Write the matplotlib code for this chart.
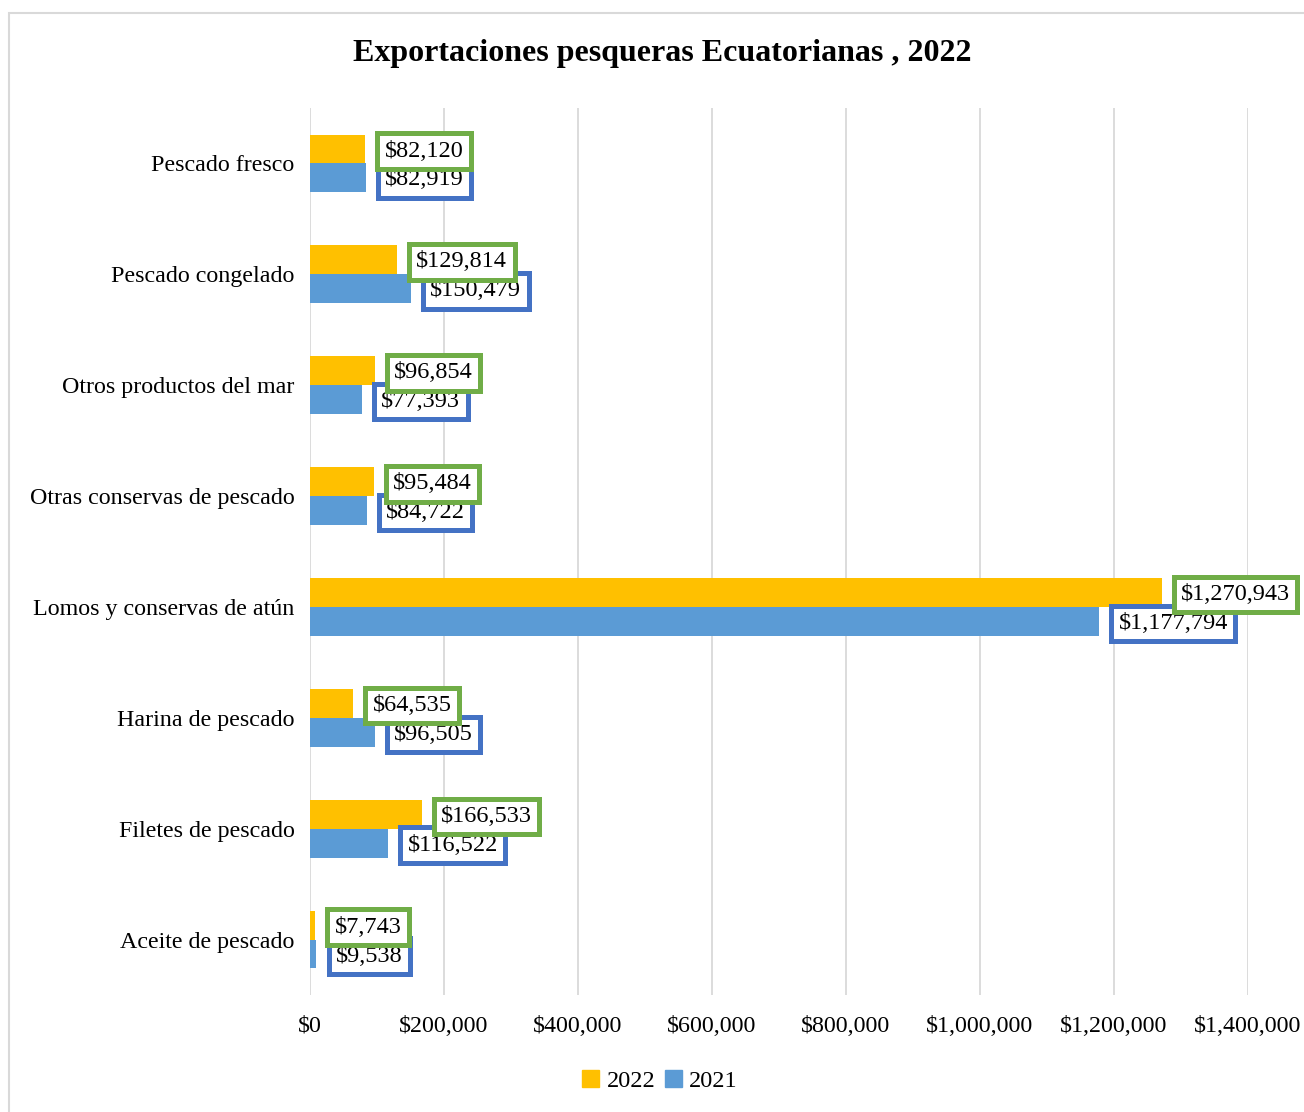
"""Exportaciones pesqueras ecuatorianas 2022 vs 2021, barras horizontales agrupadas."""

import matplotlib.pyplot as plt
from matplotlib.patches import Rectangle, Patch
from matplotlib.ticker import FuncFormatter

categories = [
    "Pescado fresco",
    "Pescado congelado",
    "Otros productos del mar",
    "Otras conservas de pescado",
    "Lomos y conservas de atún",
    "Harina de pescado",
    "Filetes de pescado",
    "Aceite de pescado",
]
values_2022 = [82120, 129814, 96854, 95484, 1270943, 64535, 166533, 7743]
values_2021 = [82919, 150479, 77393, 84722, 1177794, 96505, 116522, 9538]
x_ticks = [0, 200000, 400000, 600000, 800000, 1000000, 1200000, 1400000]

YELLOW = "#FFC000"
BLUE = "#5B9BD5"
GREEN_EDGE = "#70AD47"
BLUE_EDGE = "#4472C4"
GRID = "#D9D9D9"

plt.rcParams["font.family"] = ["Liberation Serif", "DejaVu Serif"]

W, H = 1304, 1112
fig = plt.figure(figsize=(W / 100, H / 100), dpi=100)
ax = fig.add_axes([310 / W, 1 - 995 / H, (1248 - 310) / W, (995 - 108) / H])

# light gray frame around the chart (cut off on right/bottom like the source)
fig.add_artist(Rectangle((9 / W, -0.1), 1.2, 1 - 13 / H + 0.1,
                         transform=fig.transFigure, fill=False,
                         edgecolor="#D9D9D9", linewidth=1.5))

bh = 0.26
ys = list(range(len(categories)))
y22 = [y - bh / 2 for y in ys]
y21 = [y + bh / 2 for y in ys]
ax.barh(y22, values_2022, height=bh, color=YELLOW, zorder=2)
ax.barh(y21, values_2021, height=bh, color=BLUE, zorder=2)


def money(v, _pos=None):
    return f"${v:,.0f}"


# data labels: 2021 boxes first so the 2022 (green) boxes sit on top
for v, y in zip(values_2021, y21):
    ax.annotate(money(v), xy=(v, y), xytext=(14, -1.5), textcoords="offset points",
                ha="left", va="center", fontsize=17.5, clip_on=False, zorder=4,
                bbox=dict(boxstyle="square,pad=0.3", fc="white",
                          ec=BLUE_EDGE, lw=3.6))
for v, y in zip(values_2022, y22):
    ax.annotate(money(v), xy=(v, y), xytext=(14, -1.5), textcoords="offset points",
                ha="left", va="center", fontsize=17.5, clip_on=False, zorder=5,
                bbox=dict(boxstyle="square,pad=0.3", fc="white",
                          ec=GREEN_EDGE, lw=3.6))

ax.set_xlim(0, 1400000)
ax.set_ylim(len(categories) - 0.5, -0.5)
ax.set_xticks(x_ticks)
ax.xaxis.set_major_formatter(FuncFormatter(money))
ax.set_yticks(ys)
ax.set_yticklabels(categories)
ax.tick_params(axis="both", length=0, labelsize=17.3)
ax.tick_params(axis="x", pad=15)
ax.tick_params(axis="y", pad=11)
ax.grid(axis="x", color=GRID, linewidth=1.3, zorder=0)
ax.set_axisbelow(True)
for s in ax.spines.values():
    s.set_visible(False)

fig.text(662 / W, 1 - 53 / H, "Exportaciones pesqueras Ecuatorianas , 2022",
         ha="center", va="center", fontsize=23, fontweight="bold")

handles = [Patch(color=YELLOW, label="2022"), Patch(color=BLUE, label="2021")]
fig.legend(handles=handles, loc="center", bbox_to_anchor=(660 / W, 1 - 1081 / H),
           ncol=2, frameon=False, fontsize=17.5, handlelength=0.7,
           handleheight=0.7, handletextpad=0.3, columnspacing=0.4)

fig.savefig("out.png", dpi=100, facecolor="white")
